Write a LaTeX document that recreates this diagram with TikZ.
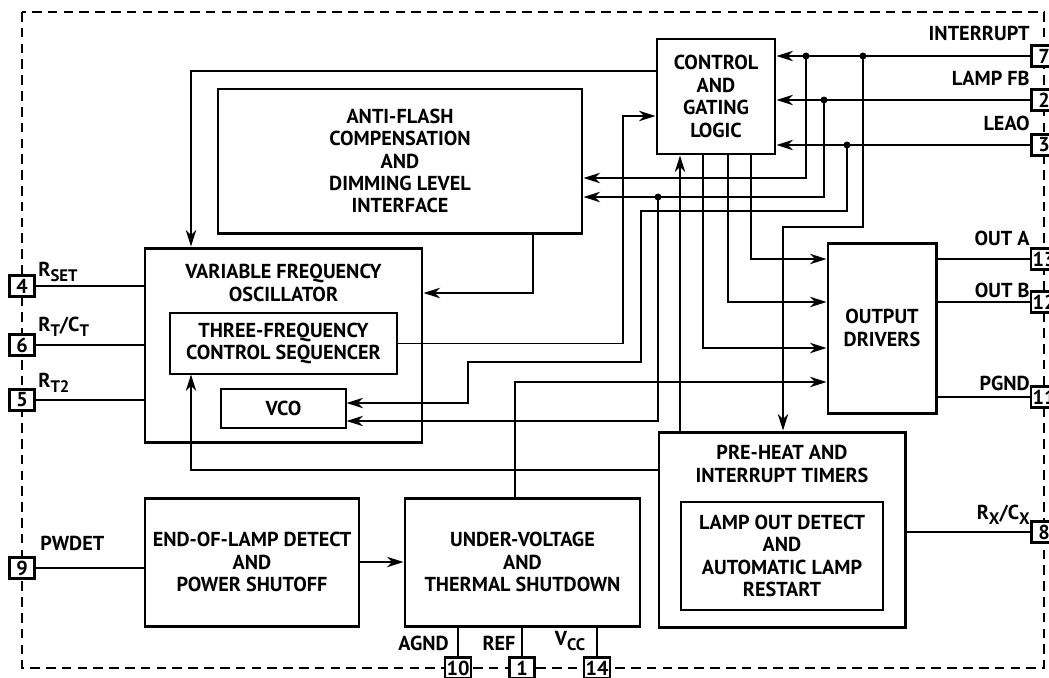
\documentclass[tikz,border=0pt]{standalone}
\usepackage{fontspec}
\setmainfont{PT Sans}
\usetikzlibrary{arrows.meta}
\newcommand\sbs[1]{\raisebox{-0.45ex}{\fontsize{9.5}{9.5}\selectfont #1}}

\begin{document}
\begin{tikzpicture}[x=0.02cm,y=-0.02cm,
  every node/.style={font=\fontsize{11.5}{12.75}\selectfont\bfseries, align=center, inner sep=0pt},
  blk/.style 2 args={draw, line width=1.7pt, minimum width=#1*0.02cm, minimum height=#2*0.02cm},
  sub/.style 2 args={draw, line width=0.6pt, minimum width=#1*0.02cm, minimum height=#2*0.02cm},
  pin/.style={draw, line width=1.3pt, fill=white, minimum width=0.5cm, minimum height=0.42cm, inner sep=1pt},
  wire/.style={line width=0.7pt},
  >={Stealth[length=9.5pt,width=6pt]}]
\clip (0,0) rectangle (1049,677);
\draw[line width=1.4pt, dash pattern=on 5.5pt off 3.5pt] (22,12) rectangle (1044,668);

\node[blk={118}{115}] (ctl) at (716,96.5) {CONTROL\\AND\\GATING\\LOGIC};
\node[blk={364}{144}] (afc) at (400,161) {ANTI-FLASH\\COMPENSATION\\AND\\DIMMING LEVEL\\INTERFACE};
\node[blk={277}{194}] (vfo) at (283.5,345) {};
\node (vfot) at (283.5,283) {VARIABLE FREQUENCY\\OSCILLATOR};
\node[sub={227}{61}] (seq) at (283.5,343.5) {THREE-FREQUENCY\\CONTROL SEQUENCER};
\node[sub={125}{39}] (vco) at (283.5,408.5) {VCO};
\node[blk={108}{170}] (drv) at (882,328) {OUTPUT\\DRIVERS};
\node[blk={246}{195}] (pre) at (782,529.5) {};
\node (pret) at (782,464) {PRE-HEAT AND\\INTERRUPT TIMERS};
\node[sub={202}{108}] (lod) at (782,556) {LAMP OUT DETECT\\AND\\AUTOMATIC LAMP\\RESTART};
\node[blk={214}{128}] (eol) at (252,562) {END-OF-LAMP DETECT\\AND\\POWER SHUTOFF};
\node[blk={235}{128}] (uv) at (522.5,562) {UNDER-VOLTAGE\\AND\\THERMAL SHUTDOWN};

\foreach \n/\y in {4/286,6/345,5/400,9/568} \node[pin] (p\n) at (22,\y) {\n};
\foreach \n/\y in {7/56,2/100,3/145,13/259,12/302,11/397,8/532} \node[pin] (p\n) at (1044,\y) {\n};
\foreach \n/\x in {10/458,1/522,14/597} \node[pin] (p\n) at (\x,668) {\n};

\node[anchor=east] (lint) at (1030,33) {INTERRUPT};
\node[anchor=east] (lfb) at (1030,78) {LAMP FB};
\node[anchor=east] (lleao) at (1030,123) {LEAO};
\node[anchor=east] (louta) at (1030,238) {OUT A};
\node[anchor=east] (loutb) at (1030,290) {OUT B};
\node[anchor=east] (lpgnd) at (1030,383) {PGND};
\node[anchor=east] (lrx) at (1030,515) {R\sbs{X}/C\sbs{X}};
\node[anchor=west] (lrset) at (38,272) {R\sbs{SET}};
\node[anchor=west] (lrt) at (38,327) {R\sbs{T}/C\sbs{T}};
\node[anchor=west] (lrt2) at (38,383) {R\sbs{T2}};
\node[anchor=west] (lpw) at (40,543) {PWDET};
\node[anchor=east] (lagnd) at (449,643) {AGND};
\node (lref) at (499,643) {REF};
\node (lvcc) at (570,641) {V\sbs{CC}};

\coordinate (j1) at (806,56);
\coordinate (j2) at (824,100);
\coordinate (j3) at (847,145);
\coordinate (j4) at (863,56);
\coordinate (j5) at (658,197);

\begin{scope}[wire]
\draw (p4) -- (p4 -| vfo.west);
\draw (p6) -- (p6 -| vfo.west);
\draw (p5) -- (p5 -| vfo.west);
\draw (p9) -- (p9 -| eol.west);
\draw[->] (eol.east) -- (uv.west);
\draw (p10) -- (p10 |- uv.south);
\draw (p1) -- (p1 |- uv.south);
\draw (p14) -- (p14 |- uv.south);
\draw[->] (uv.north -| 515,0) |- (drv.west |- 0,382);
\draw[->] (pre.west |- 0,470) -| (seq.south -| 191,0);
\draw[->] (ctl.west |- 0,71) -| (vfo.north -| 191,0);
\draw[->] (afc.south -| 533,0) |- (vfo.east |- 0,293);
\draw[->] (seq.east) -| (623,116) -- (ctl.west |- 0,116);
\draw[->] (p7) -- (p7 -| ctl.east);
\draw[->] (p2) -- (p2 -| ctl.east);
\draw[->] (p3) -- (p3 -| ctl.east);
\draw[->] (j1) |- (afc.east |- 0,178);
\draw[->] (j2) |- (afc.east |- 0,197);
\draw[->] (j5) |- (vco.east |- 0,421);
\draw[->] (j3) |- (641,211) |- (468,362) |- (vco.east |- 0,403);
\draw[->] (j4) |- (783,227) -- (pre.north -| 783,0);
\draw[->] (pre.north -| 680,0) -- (ctl.south -| 680,0);
\draw[->] (ctl.south -| 703,0) |- (drv.west |- 0,348);
\draw[->] (ctl.south -| 728,0) |- (drv.west |- 0,302);
\draw[->] (ctl.south -| 751,0) |- (drv.west |- 0,259);
\draw (p13) -- (p13 -| drv.east);
\draw (p12) -- (p12 -| drv.east);
\draw (p11) -- (p11 -| drv.east);
\draw (p8) -- (p8 -| pre.east);
\end{scope}
\foreach \j in {j1,j2,j3,j4,j5} \fill (\j) circle[radius=0.07cm];
\end{tikzpicture}
\end{document}
